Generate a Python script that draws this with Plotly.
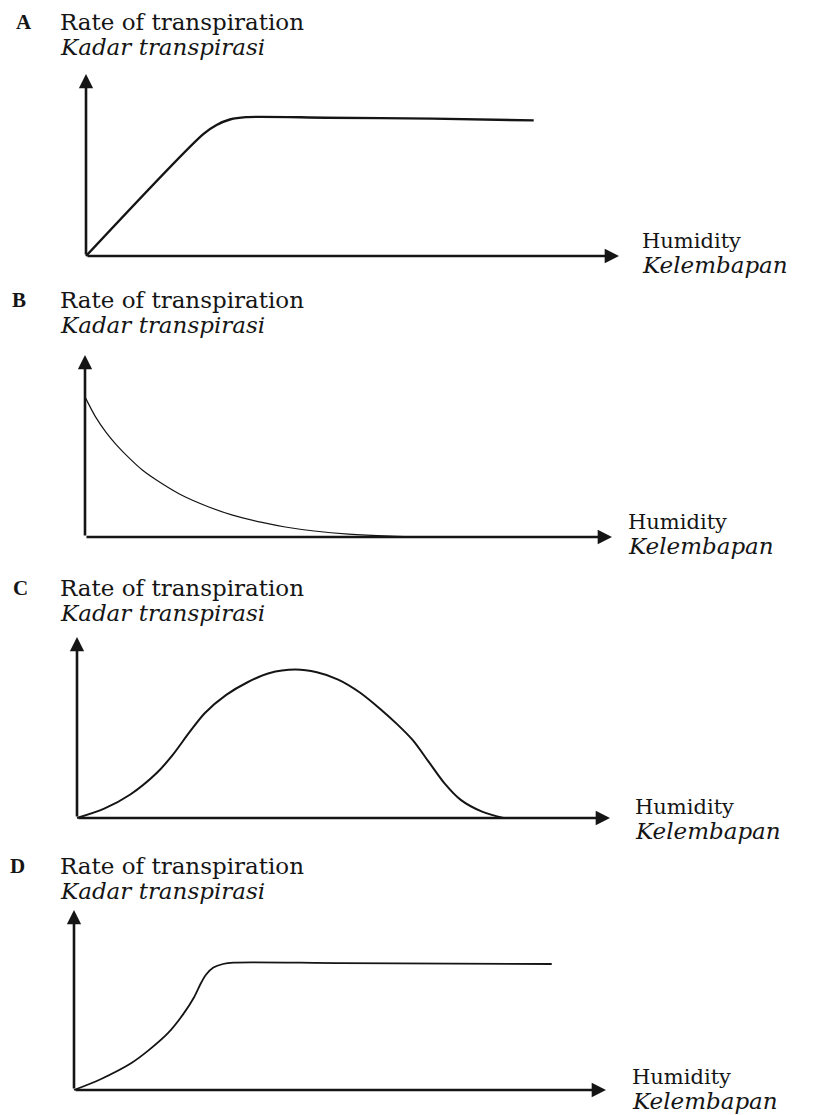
import plotly.graph_objects as go

# page body has an 8px margin, so the figure is offset by 8px
OFF = 8
W, H = 820 - OFF, 1115 - OFF

# curve data (humidity units 0-100, rate units 0-100)
a_x = [0, 22, 24.5, 27, 30, 45, 65, 84]
a_y = [0, 67, 72, 75, 76.3, 76, 75.5, 74.5]

b_x = [0, 2, 4, 6, 8.7, 11, 13.7, 18, 23.5, 28, 33.6, 38, 43.5, 50, 58, 65]
b_y = [77, 66, 57.5, 50.5, 42.5, 36.5, 31, 23.5, 16.5, 12, 8, 5.5, 3.3, 1.6, 0.5, 0]

c_x = [0, 5, 10, 15, 18, 21, 24, 28, 32, 36, 41, 45, 49, 53, 57, 60, 63, 66, 69, 72, 76, 80]
c_y = [0, 5, 13, 25, 35, 47, 58, 68, 75, 80, 82, 80.5, 76.5, 69.5, 60, 52, 43, 31, 19, 10, 3.5, 0]

d_x = [0, 5, 10.8, 14, 17.7, 20.5, 22.6, 23.8, 24.8, 26.2, 28, 30, 50, 89.8]
d_y = [0, 6, 15, 22, 31.7, 42, 51.7, 59, 64, 68, 70, 70.8, 70.5, 70]

letters = ["A", "B", "C", "D"]
y_title = "Rate of transpiration"
y_title_ms = "Kadar transpirasi"
x_title = "Humidity"
x_title_ms = "Kelembapan"

# panel geometry in reference pixels: origin, arrow tips, curve width, label spots
panels = [
    dict(ox=86, oy=256, xt=619, yt=74, lw=2.4, lx=14, top=22, hx=642, hy=242),
    dict(ox=85, oy=537, xt=612, yt=355, lw=1.2, lx=10, top=300, hx=628, hy=523),
    dict(ox=77, oy=818, xt=610, yt=637, lw=2.0, lx=11, top=588, hx=635, hy=808),
    dict(ox=74, oy=1090, xt=606, yt=910, lw=1.8, lx=8, top=866, hx=632, hy=1078),
]
curves = [(a_x, a_y), (b_x, b_y), (c_x, c_y), (d_x, d_y)]

ink = "#151515"
serif = "DejaVu Serif, Liberation Serif, serif"
PAD = 6


def px(x):
    return (x - OFF) / W


def py(y):
    return 1 - (y - OFF) / H


fig = go.Figure()
annos = []
for i, (p, (cx, cy)) in enumerate(zip(panels, curves)):
    n = "" if i == 0 else str(i + 1)
    sx = (p["xt"] - p["ox"]) / 100.0
    sy = (p["oy"] - p["yt"]) / 100.0
    fig.layout["xaxis" + n] = dict(domain=[px(p["ox"] - PAD * sx), px(p["xt"] + PAD * sx)],
                                   range=[-PAD, 100 + PAD], visible=False, fixedrange=True,
                                   anchor="y" + n)
    fig.layout["yaxis" + n] = dict(domain=[py(p["oy"] + PAD * sy), py(p["yt"] - PAD * sy)],
                                   range=[-PAD, 100 + PAD], visible=False, fixedrange=True,
                                   anchor="x" + n)

    fig.add_trace(go.Scatter(x=cx, y=cy, mode="lines", xaxis="x" + n, yaxis="y" + n,
                             line=dict(color=ink, width=p["lw"], shape="spline", smoothing=0.8),
                             showlegend=False, hoverinfo="skip"))

    # axis arrows
    for tx, ty in [(100, 0), (0, 100)]:
        annos.append(dict(x=tx, y=ty, ax=0, ay=0, xref="x" + n, yref="y" + n,
                          axref="x" + n, ayref="y" + n, showarrow=True, arrowhead=2,
                          arrowsize=1.1, arrowwidth=2.6, arrowcolor=ink, text=""))

    # labels
    t = p["top"]
    annos.append(dict(x=px(p["lx"]), y=py(t), xref="paper", yref="paper", text="<b>" + letters[i] + "</b>",
                      showarrow=False, xanchor="left", yanchor="middle",
                      font=dict(family="Liberation Serif, serif", size=21, color=ink)))
    annos.append(dict(x=px(58), y=py(t), xref="paper", yref="paper", text=y_title,
                      showarrow=False, xanchor="left", yanchor="middle",
                      font=dict(family=serif, size=23, color=ink)))
    annos.append(dict(x=px(58), y=py(t + 25), xref="paper", yref="paper", text="<i>" + y_title_ms + "</i>",
                      showarrow=False, xanchor="left", yanchor="middle",
                      font=dict(family=serif, size=23, color=ink)))
    annos.append(dict(x=px(p["hx"] - 2), y=py(p["hy"] - 1), xref="paper", yref="paper", text=x_title,
                      showarrow=False, xanchor="left", yanchor="middle",
                      font=dict(family=serif, size=21, color=ink)))
    annos.append(dict(x=px(p["hx"] - 2), y=py(p["hy"] + 23), xref="paper", yref="paper", text="<i>" + x_title_ms + "</i>",
                      showarrow=False, xanchor="left", yanchor="middle",
                      font=dict(family=serif, size=23, color=ink)))

fig.update_layout(width=W, height=H, margin=dict(l=0, r=0, t=0, b=0),
                  paper_bgcolor="white", plot_bgcolor="white", annotations=annos,
                  showlegend=False)

fig.write_html("out.html", config={"displayModeBar": False})
